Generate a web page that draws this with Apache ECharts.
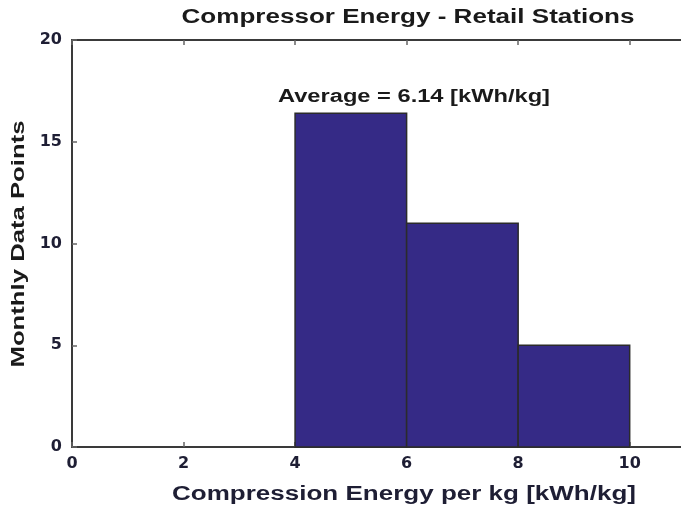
<!DOCTYPE html>
<html><head><meta charset="utf-8">
<script src="https://cdn.jsdelivr.net/npm/echarts@6/dist/echarts.min.js"></script>
<style>html,body{margin:0;padding:0;background:#fff}#c{width:681px;height:518px}</style>
</head><body><div id="c"></div>
<script>
const binStarts = [4, 6, 8];
const binEnds = [6, 8, 10];
const counts = [16.4, 11, 5];
const xTicks = [0, 2, 4, 6, 8, 10];
const yTicks = [0, 5, 10, 15, 20];
const titleText = 'Compressor Energy - Retail Stations';
const noteText = 'Average = 6.14 [kWh/kg]';
const xName = 'Compression Energy per kg [kWh/kg]';
const yName = 'Monthly Data Points';

const FONT = '"Liberation Sans", Arial, sans-serif';
const mctx = document.createElement('canvas').getContext('2d');
function fitText(text, font, targetW) {
  mctx.font = font;
  return targetW / mctx.measureText(text).width;
}
function label(text, font, cx, cy, targetW, rot, fill) {
  return {
    type: 'text', x: cx, y: cy, rotation: rot || 0,
    scaleX: fitText(text, font, targetW), scaleY: 1.05,
    style: {x: 0, y: 0, text: text, font: font, fill: fill || '#1a1a1a',
      textAlign: 'center', textVerticalAlign: 'middle'}
  };
}

const data = counts.map((c, i) => [binStarts[i], binEnds[i], c]);
const chart = echarts.init(document.getElementById('c'), null, {renderer: 'canvas'});
const lineStyle = {color: '#3a3a3a', width: 2};
const xTickStyle = {show: true, inside: true, length: 5, customValues: xTicks, lineStyle: {color: '#666', width: 1.5}};
const yTickStyle = {show: true, inside: true, length: 5, customValues: yTicks, lineStyle: {color: '#666', width: 1.5}};
const tickFont = {color: '#1e1e34', fontFamily: '"DejaVu Sans", sans-serif', fontWeight: 'bold', fontSize: 16};
// visible x-range: the original axes run past the right edge of the picture
const xMax = 10.92;
chart.setOption({
  animation: false,
  backgroundColor: '#fff',
  grid: {left: 72, top: 40, right: 0, bottom: 71, containLabel: false},
  xAxis: [{
    type: 'value', min: 0, max: xMax, interval: 2, position: 'bottom',
    axisLine: {show: true, onZero: false, lineStyle},
    axisTick: xTickStyle, splitLine: {show: false},
    axisLabel: Object.assign({margin: 9, customValues: xTicks,
      formatter: v => xTicks.includes(v) ? String(v) : ''}, tickFont)
  }, {
    type: 'value', min: 0, max: xMax, interval: 2, position: 'top',
    axisLine: {show: true, onZero: false, lineStyle},
    axisTick: xTickStyle, axisLabel: {show: false}, splitLine: {show: false}
  }],
  yAxis: [{
    type: 'value', min: 0, max: 20, interval: 5, position: 'left',
    axisLine: {show: true, onZero: false, lineStyle},
    axisTick: yTickStyle, splitLine: {show: false},
    axisLabel: Object.assign({margin: 10, customValues: yTicks,
      formatter: v => yTicks.includes(v) ? String(v) : ''}, tickFont)
  }],
  graphic: [
    label(titleText, 'bold 19px ' + FONT, 408, 18, 453),
    label(noteText, 'bold 17px ' + FONT, 414, 97, 272),
    label(xName, 'bold 19px ' + FONT, 404, 495, 464, 0, '#1e1e34'),
    label(yName, 'bold 18px ' + FONT, 19, 244, 247, Math.PI / 2)
  ],
  series: [{
    type: 'custom', xAxisIndex: 0, yAxisIndex: 0,
    data: data,
    encode: {x: [0, 1], y: 2},
    renderItem: (params, api) => {
      const p0 = api.coord([api.value(0), api.value(2)]);
      const p1 = api.coord([api.value(1), 0]);
      return {type: 'rect', shape: {x: p0[0], y: p0[1], width: p1[0] - p0[0], height: p1[1] - p0[1]},
        style: {fill: '#352a86', stroke: '#2b2b2b', lineWidth: 1.5}};
    }
  }]
});
</script></body></html>
